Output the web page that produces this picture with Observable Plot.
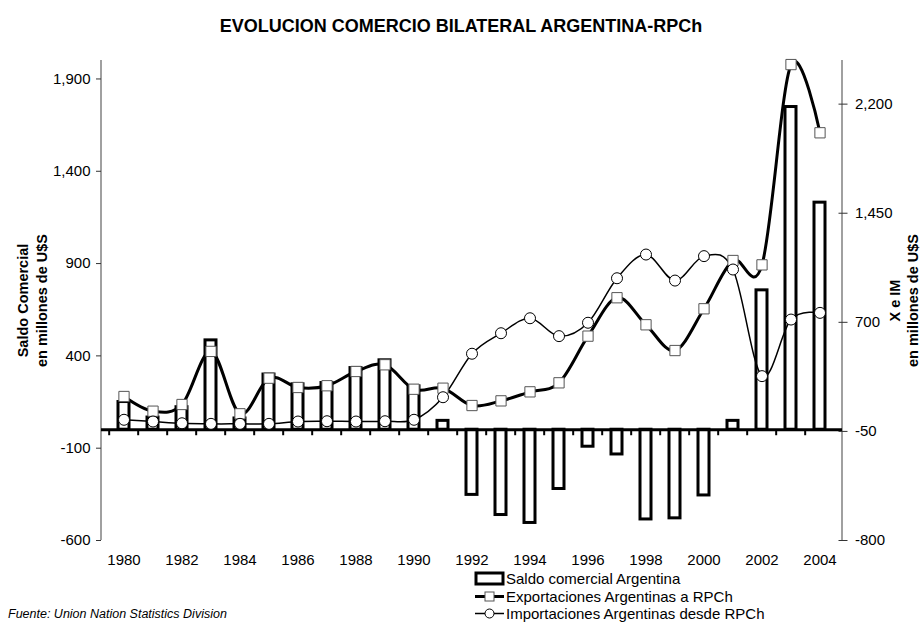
<!DOCTYPE html>
<html><head><meta charset="utf-8">
<script src="https://cdn.jsdelivr.net/npm/d3@7"></script>
<script src="https://cdn.jsdelivr.net/npm/@observablehq/plot@0.6"></script>
<style>
body{margin:0;background:#fff;font-family:"Liberation Sans",Arial,Helvetica,sans-serif;color:#000;}
#wrap{position:relative;width:922px;height:623px;overflow:hidden;}
#title{height:50px;line-height:52px;text-align:center;font-weight:bold;font-size:18px;}
#chart svg{display:block;}
.leg{position:absolute;left:473px;font-size:15px;line-height:17px;height:17px;display:flex;align-items:center;white-space:nowrap;}
.leg svg{display:block;}
#src{position:absolute;left:8px;top:606px;font-size:12.5px;font-style:italic;line-height:16px;white-space:nowrap;}
</style></head><body>
<div id="wrap">
  <div id="title">EVOLUCION COMERCIO BILATERAL ARGENTINA-RPCh</div>
  <div id="chart"></div>
  <div class="leg" style="top:569.5px"><svg width="33" height="17"><rect x="3" y="3" width="27" height="11" fill="white" stroke="black" stroke-width="3"/></svg><span>Saldo comercial Argentina</span></div>
  <div class="leg" style="top:587.5px"><svg width="33" height="17"><line x1="2" x2="31" y1="8.5" y2="8.5" stroke="black" stroke-width="3"/><rect x="12" y="4" width="9" height="9" fill="white" stroke="#555" stroke-width="1"/></svg><span>Exportaciones Argentinas a RPCh</span></div>
  <div class="leg" style="top:605px"><svg width="33" height="17"><line x1="2" x2="31" y1="8.5" y2="8.5" stroke="black" stroke-width="1.5"/><circle cx="16.5" cy="8.5" r="4.5" fill="white" stroke="black" stroke-width="1"/></svg><span>Importaciones Argentinas desde RPCh</span></div>
  <div id="src">Fuente: Union Nation Statistics Division</div>
</div>
<script>
const years = [1980,1981,1982,1983,1984,1985,1986,1987,1988,1989,1990,1991,1992,1993,1994,1995,1996,1997,1998,1999,2000,2001,2002,2003,2004];
const saldo = [150,66,122,484,61,299,246,253,334,376,235,48,-353,-462,-505,-321,-92,-134,-486,-480,-356,48,755,1748,1230];
const exportaciones = [190,89,135,500,71,316,252,264,362,408,240,247,128,160,222,284,605,869,683,506,793,1125,1095,2472,2003];
const importaciones = [30,18,6,2,2,2,18,20,18,20,30,185,484,625,728,605,697,1003,1166,987,1155,1063,330,719,765];
const leftTicks = [-600,-100,400,900,1400,1900];
const rightTicks = [-800,-50,700,1450,2200];
const xLabels = [1980,1982,1984,1986,1988,1990,1992,1994,1996,1998,2000,2002,2004];
const leftDomain = [-600, 2000];
const rightDomain = [-800, 2500];

const k = (leftDomain[1]-leftDomain[0])/(rightDomain[1]-rightDomain[0]);
const toLeft = r => leftDomain[0] + (r - rightDomain[0]) * k;
const toRight = l => rightDomain[0] + (l - leftDomain[0]) / k;
const fmt = v => Math.round(v).toLocaleString("en-US");
const rows = years.map((y,i) => ({year:y, saldo:saldo[i], x:toLeft(exportaciones[i]), m:toLeft(importaciones[i])}));

const W=922, H=522, mL=101, mR=80, mT=10, mB=32;
const step = (W-mL-mR)/years.length;
const font = '"Liberation Sans", Arial, Helvetica, sans-serif';

const axisLines = () => {
  const g = d3.create("svg:g");
  for (const x of [mL, W-mR]) {
    g.append("line").attr("x1",x).attr("x2",x).attr("y1",mT).attr("y2",H-mB)
      .attr("stroke","#808080").attr("stroke-width",1.5);
  }
  return g.node();
};

const chart = Plot.plot({
  width: W, height: H,
  marginLeft: mL, marginRight: mR, marginTop: mT, marginBottom: mB,
  style: {fontFamily: font, fontSize: "15px", color: "#000", background: "#fff", overflow: "visible"},
  x: {type: "band", domain: years, paddingInner: 0.62, paddingOuter: 0.31, axis: null},
  y: {domain: leftDomain, axis: null},
  marks: [
    axisLines,
    Plot.barY(rows, {x: "year", y: "saldo", fill: "white", stroke: "black", strokeWidth: 3}),
    Plot.ruleY([0], {stroke: "black", strokeWidth: 3}),
    Plot.ruleX(years, {x: d => d, y1: 0, y2: 0, insetBottom: -6, dx: -step/2, stroke: "black", strokeWidth: 2}),
    Plot.line(rows, {x: "year", y: "m", stroke: "black", strokeWidth: 1.5, curve: "cardinal", tension: 0}),
    Plot.line(rows, {x: "year", y: "x", stroke: "black", strokeWidth: 3, curve: "cardinal", tension: 0}),
    Plot.dot(rows, {x: "year", y: "x", symbol: "square", r: 5.8, fill: "white", stroke: "#555", strokeWidth: 1}),
    Plot.dot(rows, {x: "year", y: "m", symbol: "circle", r: 5.5, fill: "white", stroke: "black", strokeWidth: 1}),
    Plot.axisY({anchor: "left", ticks: leftTicks, tickFormat: fmt, tickSize: 5, tickPadding: 6, label: null, stroke: "#333", fontSize: 15}),
    Plot.axisY({anchor: "right", ticks: rightTicks.map(toLeft), tickFormat: d => fmt(toRight(d)), tickSize: 9, dx: -4.5, tickPadding: 8, label: null, stroke: "#333", fontSize: 15}),
    Plot.axisX({anchor: "bottom", ticks: xLabels, tickFormat: d => String(d), tickSize: 0, tickPadding: 14, label: null, fontSize: 15}),
    Plot.text(["Saldo Comercial\nen millones de U$S"], {text: d => d, frameAnchor: "left", rotate: -90, dx: -70, textAnchor: "middle", lineAnchor: "middle", lineHeight: 1.3, fontWeight: "bold", fontSize: 14.5}),
    Plot.text(["X e IM\nen millones de U$S"], {text: d => d, frameAnchor: "right", rotate: -90, dx: 61, textAnchor: "middle", lineAnchor: "middle", lineHeight: 1.25, fontWeight: "bold", fontSize: 14.5})
  ]
});
document.getElementById("chart").appendChild(chart);
</script>
</body></html>
